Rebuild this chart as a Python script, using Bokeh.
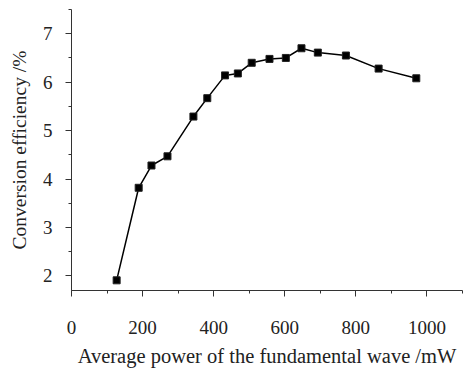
from bokeh.plotting import figure
from bokeh.models import Range1d, FixedTicker
from bokeh.embed import file_html
from bokeh.resources import INLINE

power_mw = [127, 189, 225, 270, 343, 382, 432, 468, 507, 557, 603, 647, 693, 772, 864, 970]
efficiency = [1.91, 3.82, 4.28, 4.47, 5.29, 5.67, 6.14, 6.18, 6.40, 6.48, 6.50, 6.70, 6.61, 6.55, 6.28, 6.08]
x_ticks = [0, 200, 400, 600, 800, 1000]
x_minor = [0, 100, 200, 300, 400, 500, 600, 700, 800, 900, 1000, 1100]
y_ticks = [2, 3, 4, 5, 6, 7]
y_minor = [2.0, 2.5, 3.0, 3.5, 4.0, 4.5, 5.0, 5.5, 6.0, 6.5, 7.0, 7.5]

FONT = "Liberation Serif"

p = figure(width=464, height=370, output_backend="svg", toolbar_location=None,
           x_range=Range1d(0, 1100), y_range=Range1d(1.7, 7.5),
           min_border_left=71, min_border_right=2, min_border_top=9, min_border_bottom=80)
p.outline_line_color = None
p.xgrid.visible = False
p.ygrid.visible = False
p.background_fill_color = "white"
p.border_fill_color = "white"

p.line(power_mw, efficiency, line_color="black", line_width=1.5)
p.scatter(power_mw, efficiency, marker="square", size=7, fill_color="black", line_color="#222222")

p.xaxis.ticker = FixedTicker(ticks=x_ticks, minor_ticks=x_minor)
p.yaxis.ticker = FixedTicker(ticks=y_ticks, minor_ticks=y_minor)

for ax in (p.xaxis[0], p.yaxis[0]):
    ax.axis_line_color = "#333333"
    ax.axis_line_width = 1
    ax.major_tick_line_color = "#333333"
    ax.minor_tick_line_color = "#333333"
    ax.major_tick_in = 0
    ax.major_tick_out = 6
    ax.minor_tick_in = 0
    ax.minor_tick_out = 3
    ax.major_label_text_font = FONT
    ax.major_label_text_font_size = "19px"
    ax.major_label_text_color = "#222222"
    ax.axis_label_text_font = FONT
    ax.axis_label_text_font_style = "normal"
    ax.axis_label_text_color = "#222222"

p.xaxis.axis_label_text_font_size = "20.5px"
p.yaxis.axis_label_text_font_size = "19.5px"
p.xaxis.axis_label = "Average power of the fundamental wave /mW"
p.yaxis.axis_label = "Conversion efficiency /%"
p.xaxis.major_label_standoff = 24
p.xaxis.axis_label_standoff = 8
p.yaxis.major_label_standoff = 13
p.yaxis.axis_label_standoff = 10

open("out.html", "w").write(file_html(p, INLINE))
